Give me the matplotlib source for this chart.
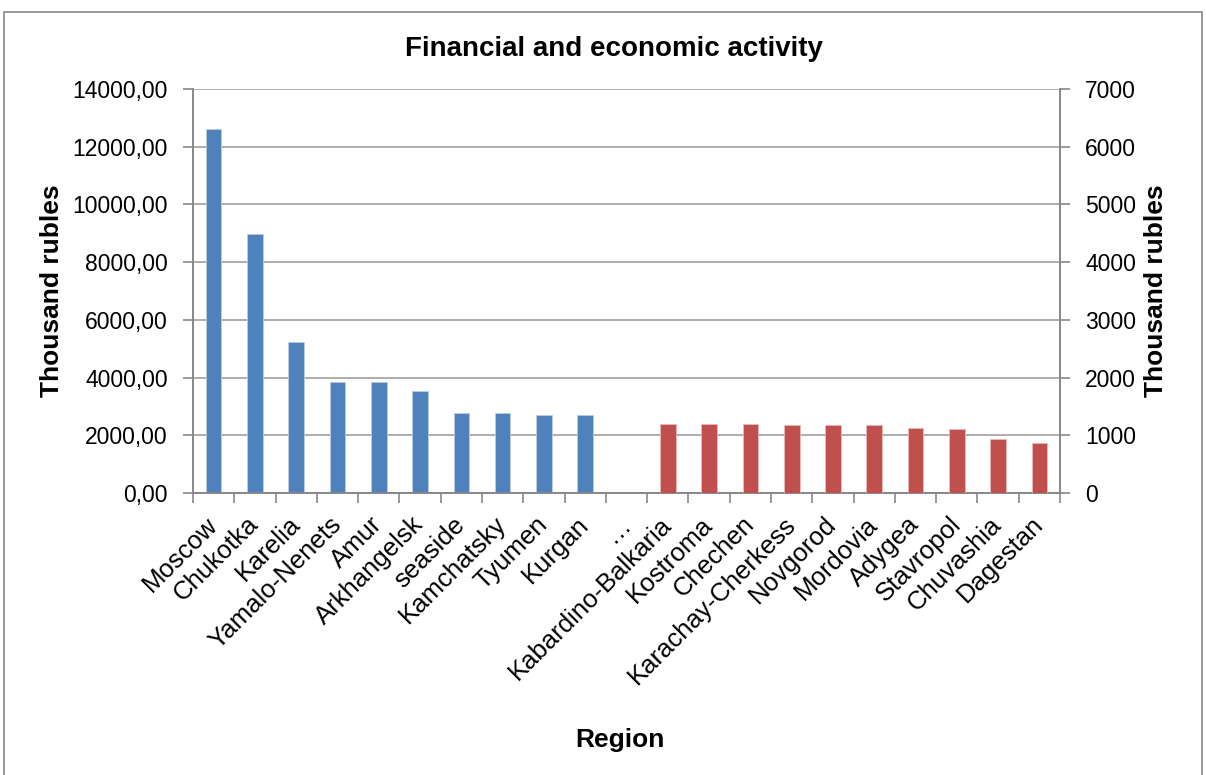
import matplotlib
matplotlib.use("Agg")
import matplotlib.pyplot as plt
from matplotlib.patches import Rectangle
from matplotlib.ticker import FixedLocator, FuncFormatter
import numpy as np

# Data
regions_high = ["Moscow", "Chukotka", "Karelia", "Yamalo-Nenets", "Amur",
                "Arkhangelsk", "seaside", "Kamchatsky", "Tyumen", "Kurgan"]
values_high = [12620, 8980, 5240, 3830, 3830, 3520, 2760, 2760, 2710, 2710]

regions_low = ["Kabardino-Balkaria", "Kostroma", "Chechen", "Karachay-Cherkess",
               "Novgorod", "Mordovia", "Adygea", "Stavropol", "Chuvashia", "Dagestan"]
values_low = [1195, 1195, 1195, 1172, 1172, 1172, 1125, 1108, 935, 870]

categories = regions_high + ["…"] + regions_low

plt.rcParams["font.family"] = ["Liberation Sans", "DejaVu Sans"]

fig = plt.figure(figsize=(12.06, 7.75), dpi=100)
fig.patch.set_facecolor("white")

# chart outer frame
fig.patches.append(Rectangle((0.0033, -0.05), 0.9934, 1.0345, transform=fig.transFigure,
                             fill=False, edgecolor="#878787", linewidth=1.2))

ax = fig.add_axes([0.160, 0.364, 0.719, 0.521])
ax2 = ax.twinx()

x = np.arange(len(categories))
x_high = x[:len(regions_high)]
x_low = x[len(regions_high) + 1:]

ax.bar(x_high, values_high, width=0.38, color="#4F81BD", edgecolor="#B8CCE4",
       linewidth=0.6, zorder=3)
ax2.bar(x_low, values_low, width=0.38, color="#C0504D", edgecolor="#E6B9B8",
        linewidth=0.6, zorder=3)

ax.set_xlim(-0.5, len(categories) - 0.5)
ax.set_ylim(0, 14000)
ax2.set_ylim(0, 7000)

ax.set_yticks(np.arange(0, 14001, 2000))
ax.yaxis.set_major_formatter(FuncFormatter(lambda v, p: f"{v:.2f}".replace(".", ",")))
ax2.set_yticks(np.arange(0, 7001, 1000))

ax.grid(axis="y", color="#A0A0A0", linewidth=1.2, zorder=0)
ax.set_axisbelow(True)

ax.set_xticks(x)
ax.set_xticklabels(categories, rotation=45, ha="right", va="center",
                   rotation_mode="anchor", fontsize=18.5)
ax.xaxis.set_minor_locator(FixedLocator(np.arange(-0.5, len(categories), 1.0)))
ax.tick_params(axis="x", which="major", length=0, pad=20)
ax.tick_params(axis="x", which="minor", length=7, color="#878787", width=1.2)

ax.tick_params(axis="y", labelsize=16.5, length=7, color="#878787", width=1.2, pad=11)
ax2.tick_params(axis="y", labelsize=16.5, length=7, color="#878787", width=1.2, pad=11)

for a in (ax, ax2):
    a.spines["top"].set_visible(False)
    for s in ("left", "right", "bottom"):
        a.spines[s].set_color("#878787")
        a.spines[s].set_linewidth(1.2)

ax.set_ylabel("Thousand rubles", fontsize=19, fontweight="bold", labelpad=6)
ax2.set_ylabel("Thousand rubles", fontsize=19, fontweight="bold", labelpad=6)

fig.text(0.509, 0.937, "Financial and economic activity", ha="center", va="center",
         fontsize=20, fontweight="bold")
fig.text(0.514, 0.045, "Region", ha="center", va="center",
         fontsize=19, fontweight="bold")

fig.savefig("out.png", dpi=100)
